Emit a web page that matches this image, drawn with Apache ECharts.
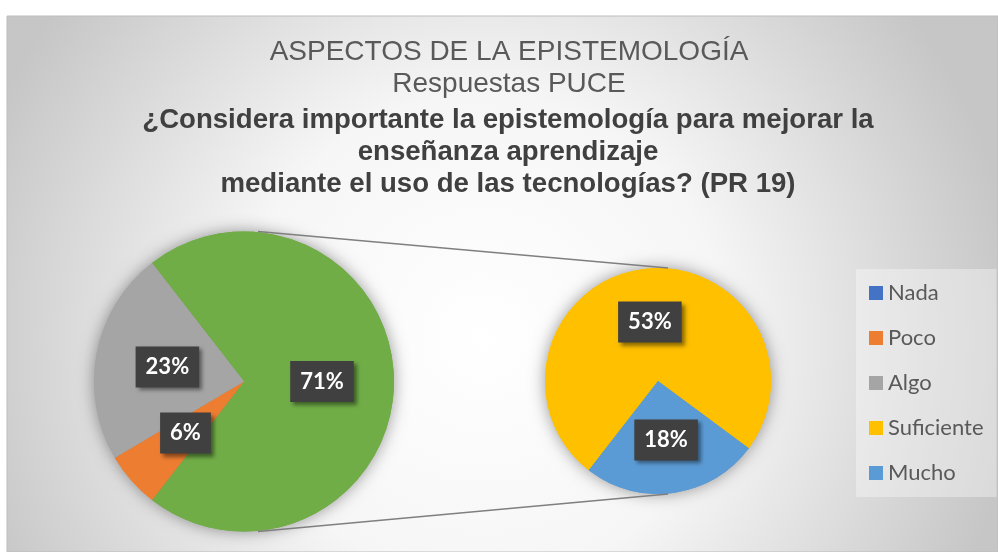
<!DOCTYPE html>
<html><head><meta charset="utf-8">
<script src="https://cdn.jsdelivr.net/npm/echarts@6/dist/echarts.min.js"></script>
<style>html,body{margin:0;padding:0;background:#fff}#c{width:998px;height:552px}</style>
</head><body><div id="c"></div>
<script>
// ---- data ----
const titleLines = ['ASPECTOS DE LA EPISTEMOLOGÍA', 'Respuestas PUCE'];
const questionLines = ['¿Considera importante la epistemología para mejorar la', 'enseñanza aprendizaje', 'mediante el uso de las tecnologías? (PR 19)'];
const mainCategories = ['Nada', 'Poco', 'Algo'];
const mainValues = [0, 6, 23];
const subCategories = ['Suficiente', 'Mucho'];
const subValues = [53, 18];
const otherName = 'Otros';

// ---- styles ----
const colors = { Nada: '#4472C4', Poco: '#ED7D31', Algo: '#A5A5A5', Suficiente: '#FFC000', Mucho: '#5B9BD5', Otros: '#70AD47' };
const mainPie = { cx: 244, cy: 381.5, r: 150 };
const subPie = { cx: 658, cy: 381, r: 113 };

const otherValue = subValues.reduce((a, b) => a + b, 0);
const total = mainValues.reduce((a, b) => a + b, 0) + otherValue;
const mainStart = otherValue / total * 180;

const labelStyle = {
  show: true, position: 'inside', formatter: '{c}%',
  color: '#ffffff', fontFamily: 'Lato', fontWeight: 'bold', fontSize: 22, lineHeight: 22,
  backgroundColor: '#404040', padding: [10, 10, 9, 10],
  shadowColor: 'rgba(0,0,0,0.45)', shadowBlur: 4, shadowOffsetX: 3, shadowOffsetY: 3
};

const mainData = [{ name: otherName, value: otherValue, itemStyle: { color: colors.Otros } }]
  .concat(mainCategories.map((n, i) => ({ name: n, value: mainValues[i], itemStyle: { color: colors[n] } })));
const subData = subCategories.map((n, i) => ({ name: n, value: subValues[i], itemStyle: { color: colors[n] } }));

const titleY = [52, 84];
const questionY = [120, 152, 184];
const graphics = [
  {
    type: 'rect', z: -10, shape: { x: 7, y: 16, width: 991, height: 536 },
    style: {
      fill: new echarts.graphic.RadialGradient(0.48, 0.6, 1.0, [
        { offset: 0, color: '#ffffff' }, { offset: 0.45, color: '#f6f6f6' }, { offset: 1, color: '#c6c6c6' }
      ]),
      stroke: '#bdbdbd', lineWidth: 1
    }
  },
  {
    type: 'line', z: 5,
    shape: { x1: mainPie.cx + 14, y1: mainPie.cy - mainPie.r, x2: subPie.cx + 10, y2: subPie.cy - subPie.r },
    style: { stroke: '#7f7f7f', lineWidth: 1.5 }
  },
  {
    type: 'line', z: 5,
    shape: { x1: mainPie.cx + 14, y1: mainPie.cy + mainPie.r, x2: subPie.cx + 10, y2: subPie.cy + subPie.r },
    style: { stroke: '#7f7f7f', lineWidth: 1.5 }
  }
];
titleLines.forEach((t, i) => graphics.push({
  type: 'text', z: 10, x: 509, y: titleY[i],
  style: { text: t, fill: '#595959', font: '28px "Liberation Sans", Arial, sans-serif', align: 'center', verticalAlign: 'middle' }
}));
questionLines.forEach((t, i) => graphics.push({
  type: 'text', z: 10, x: 508, y: questionY[i],
  style: { text: t, fill: '#404040', font: 'bold 27.6px "Liberation Sans", Arial, sans-serif', align: 'center', verticalAlign: 'middle' }
}));

function pieSeries(data, p, start, isShadow) {
  return {
    type: 'pie', center: [p.cx, p.cy], radius: p.r, z: isShadow ? 1 : 2,
    startAngle: start, clockwise: true, avoidLabelOverlap: false, silent: isShadow,
    minShowLabelAngle: -1,
    label: isShadow ? { show: false } : labelStyle, labelLine: { show: false },
    itemStyle: isShadow
      ? { borderWidth: 0, shadowBlur: 16, shadowColor: 'rgba(0,0,0,0.4)' }
      : { borderWidth: 0 },
    emphasis: { disabled: true },
    data: data
  };
}

const chart = echarts.init(document.getElementById('c'));
chart.setOption({
  backgroundColor: '#ffffff',
  animation: false,
  graphic: graphics,
  legend: {
    data: mainCategories.concat(subCategories),
    orient: 'vertical', left: 856, top: 269,
    padding: [13, 13, 13, 13], itemGap: 23, itemWidth: 14, itemHeight: 14, icon: 'rect',
    backgroundColor: 'rgba(255,255,255,0.35)',
    textStyle: { color: '#595959', fontFamily: 'Lato', fontSize: 22 }
  },
  series: [
    pieSeries(mainData, mainPie, mainStart, true),
    pieSeries(subData, subPie, 360 - mainStart, true),
    pieSeries(mainData, mainPie, mainStart, false),
    pieSeries(subData, subPie, 360 - mainStart, false)
  ]
});
</script></body></html>
